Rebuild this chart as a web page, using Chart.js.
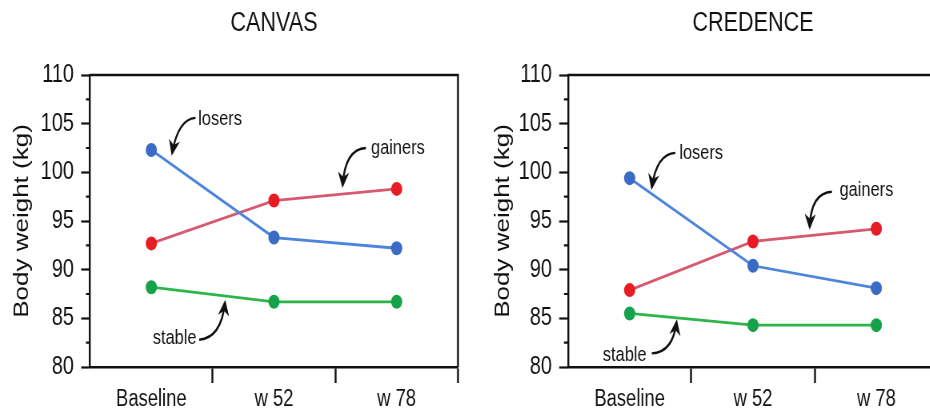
<!DOCTYPE html>
<html>
<head>
<meta charset="utf-8">
<script src="https://cdn.jsdelivr.net/npm/chart.js@4.4.1/dist/chart.umd.min.js"></script>
<style>
  html, body { margin: 0; padding: 0; background: #fff; width: 930px; height: 414px; overflow: hidden; position: relative; }
  /* the original figure is squeezed horizontally, so each panel is drawn wide and squeezed */
  .panel { position: absolute; top: 0; transform: scaleX(0.8); transform-origin: 0 0; }
  #left { left: 0; }
  #right { left: 465px; }
</style>
</head>
<body>
<div class="panel" id="left"><canvas id="canvas-chart" width="582" height="414"></canvas></div>
<div class="panel" id="right"><canvas id="credence-chart" width="600" height="414"></canvas></div>
<script>
// visit labels and y axis range
const categories = ['Baseline', 'w 52', 'w 78'];
const yMin = 80;
const yMax = 110;
const yStep = 5;

// CANVAS trial, body weight (kg)
const canvasLosers = [102.3, 93.3, 92.2];
const canvasGainers = [92.7, 97.1, 98.3];
const canvasStable = [88.2, 86.7, 86.7];

// CREDENCE trial, body weight (kg)
const credenceLosers = [99.4, 90.4, 88.1];
const credenceGainers = [87.9, 92.9, 94.2];
const credenceStable = [85.5, 84.3, 84.3];

// group names used for the annotations
const groupNames = ['losers', 'gainers', 'stable'];

const sans = '"Liberation Sans", Arial, Helvetica, sans-serif';
const ink = '#111';

const colors = {
    losers: { point: '#3a6bc5', line: '#4d84dc' },
    gainers: { point: '#e81c25', line: '#d8586e' },
    stable: { point: '#16a24a', line: '#2db54a' },
};

// label + arrow placement, in data units (x = category index, y = kg)
const canvasNotes = [
    { text: groupNames[0], at: [0.56, 105.4], from: [0.36, 105.6], ctrl: [0.22, 105.5], tip: [0.17, 102.0] },
    { text: groupNames[1], at: [2.01, 102.5], from: [1.75, 102.5], ctrl: [1.58, 102.4], tip: [1.56, 98.7] },
    { text: groupNames[2], at: [0.19, 82.9], from: [0.39, 82.8], ctrl: [0.57, 83.0], tip: [0.60, 86.6] },
];
const credenceNotes = [
    { text: groupNames[0], at: [0.58, 101.9], from: [0.37, 102.0], ctrl: [0.22, 101.9], tip: [0.18, 98.5] },
    { text: groupNames[1], at: [1.92, 98.2], from: [1.64, 98.0], ctrl: [1.47, 97.9], tip: [1.46, 94.4] },
    { text: groupNames[2], at: [-0.04, 81.2], from: [0.18, 81.4], ctrl: [0.35, 81.5], tip: [0.38, 84.6] },
];

// box frame, minor y ticks, group labels with curved arrows
const framePlugin = {
    id: 'frame',
    afterDatasetsDraw(chart, args, opts) {
        const { ctx, chartArea: a } = chart;
        const xs = chart.scales.x, ys = chart.scales.y;
        ctx.save();
        ctx.strokeStyle = ink;
        ctx.lineWidth = 2.4;
        ctx.beginPath();
        ctx.moveTo(a.left, a.top);
        ctx.lineTo(a.right, a.top);
        ctx.lineTo(a.right, a.bottom);
        ctx.stroke();

        ctx.lineWidth = 2.2;
        ctx.beginPath();
        for (let v = yMin + yStep / 2; v < yMax; v += yStep) {
            const py = ys.getPixelForValue(v);
            ctx.moveTo(a.left - 5, py);
            ctx.lineTo(a.left, py);
        }
        ctx.stroke();

        const P = p => [xs.getPixelForValue(p[0]), ys.getPixelForValue(p[1])];
        ctx.fillStyle = ink;
        ctx.font = '20.5px ' + sans;
        ctx.textAlign = 'center';
        ctx.textBaseline = 'middle';
        (opts.notes || []).forEach(n => {
            const t = P(n.at), f = P(n.from), c = P(n.ctrl), e = P(n.tip);
            ctx.fillText(n.text, t[0], t[1]);
            ctx.lineWidth = 2.4;
            ctx.beginPath();
            ctx.moveTo(f[0], f[1]);
            ctx.quadraticCurveTo(c[0], c[1], e[0], e[1]);
            ctx.stroke();
            // arrow head
            let dx = e[0] - c[0], dy = e[1] - c[1];
            const len = Math.hypot(dx, dy) || 1;
            dx /= len; dy /= len;
            const L = 13, W = 7;
            ctx.beginPath();
            ctx.moveTo(e[0] + dx * 3, e[1] + dy * 3);
            ctx.lineTo(e[0] - dx * L - dy * W, e[1] - dy * L + dx * W);
            ctx.lineTo(e[0] - dx * (L - 5), e[1] - dy * (L - 5));
            ctx.lineTo(e[0] - dx * L + dy * W, e[1] - dy * L - dx * W);
            ctx.closePath();
            ctx.fill();
        });
        ctx.restore();
    }
};

function series(label, values, key) {
    return {
        label: label,
        data: values,
        borderColor: colors[key].line,
        backgroundColor: colors[key].point,
        pointBackgroundColor: colors[key].point,
        pointBorderColor: colors[key].point,
        pointBorderWidth: 0,
        pointRadius: 7,
        borderWidth: 2.8,
        tension: 0,
    };
}

function makeChart(id, title, losers, gainers, stable, notes, pad, yWidth) {
    return new Chart(document.getElementById(id), {
        type: 'line',
        data: {
            labels: categories,
            datasets: [
                series('losers', losers, 'losers'),
                series('gainers', gainers, 'gainers'),
                series('stable', stable, 'stable'),
            ]
        },
        options: {
            responsive: false,
            animation: false,
            layout: { padding: pad },
            plugins: {
                legend: { display: false },
                tooltip: { enabled: false },
                title: {
                    display: true,
                    text: title,
                    fullSize: false,
                    color: ink,
                    font: { family: sans, size: 27, weight: 'normal' },
                    padding: { top: 7, bottom: 35.6 },
                },
                frame: { notes: notes },
            },
            scales: {
                x: {
                    offset: true,
                    afterFit: s => { s.height = 47; },
                    grid: {
                        offset: true,
                        drawOnChartArea: false,
                        drawTicks: true,
                        tickLength: 16,
                        tickWidth: 2.4,
                        tickColor: c => (c.index === 0 || c.index === categories.length) ? 'rgba(0,0,0,0)' : ink,
                    },
                    border: { display: true, color: ink, width: 2.4 },
                    ticks: { color: ink, padding: 3, font: { family: sans, size: 23 } },
                },
                y: {
                    min: yMin,
                    max: yMax,
                    afterFit: s => { s.width = yWidth; },
                    grid: {
                        drawOnChartArea: false,
                        drawTicks: true,
                        tickLength: 11,
                        tickWidth: 2.2,
                        tickColor: ink,
                    },
                    border: { display: true, color: ink, width: 2.4 },
                    ticks: { stepSize: yStep, color: ink, padding: 9, font: { family: sans, size: 25 } },
                    title: {
                        display: true,
                        text: 'Body weight (kg)',
                        color: ink,
                        font: { family: sans, size: 26 },
                        padding: { top: 12, bottom: 0 },
                    },
                },
            },
        },
        plugins: [framePlugin],
    });
}

// sizes below are in the un-squeezed canvas units
makeChart('canvas-chart', 'CANVAS', canvasLosers, canvasGainers, canvasStable, canvasNotes,
    { left: 0, right: 9.5, top: 0, bottom: 0 }, 112.5);
makeChart('credence-chart', 'CREDENCE', credenceLosers, credenceGainers, credenceStable, credenceNotes,
    { left: 20, right: 8.75, top: 0, bottom: 0 }, 108.75);
</script>
</body>
</html>
